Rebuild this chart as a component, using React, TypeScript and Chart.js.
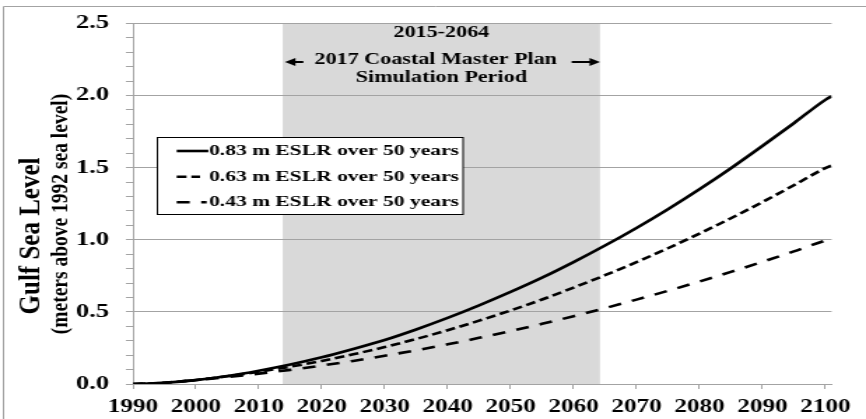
import React, { useEffect, useRef } from 'react';
import { Chart, registerables } from 'chart.js';

Chart.register(...registerables);

// ---- data ----
const years = [1990, 1995, 2000, 2005, 2010, 2015, 2020, 2025, 2030, 2035, 2040, 2045, 2050, 2055, 2060, 2065, 2070, 2075, 2080, 2085, 2090, 2095, 2100, 2101];
const eslr083 = [0, 0.008, 0.027, 0.055, 0.092, 0.135, 0.185, 0.243, 0.305, 0.378, 0.458, 0.545, 0.638, 0.737, 0.845, 0.96, 1.082, 1.212, 1.35, 1.496, 1.65, 1.808, 1.97, 1.995];
const eslr063 = [0, 0.009, 0.028, 0.054, 0.085, 0.12, 0.16, 0.206, 0.256, 0.312, 0.373, 0.439, 0.51, 0.586, 0.668, 0.754, 0.845, 0.941, 1.043, 1.149, 1.261, 1.378, 1.497, 1.515];
const eslr043 = [0, 0.009, 0.027, 0.048, 0.072, 0.098, 0.128, 0.16, 0.196, 0.234, 0.275, 0.32, 0.367, 0.417, 0.47, 0.526, 0.585, 0.646, 0.71, 0.777, 0.847, 0.919, 0.994, 1.005];
const seriesLabels = ['0.83 m ESLR over 50 years', '0.63 m ESLR over 50 years', '0.43 m ESLR over 50 years'];
const xTickValues = [1990, 2000, 2010, 2020, 2030, 2040, 2050, 2060, 2070, 2080, 2090, 2100];
const yMajorLabels = ['0.0', '0.5', '1.0', '1.5', '2.0', '2.5'];
const simPeriod = [2013.8, 2064.2];
const periodText = ['2015-2064', '2017 Coastal Master Plan', 'Simulation Period'];
const yTitle = ['Gulf Sea Level', '(meters above 1992 sea level)'];

// ---- layout / style ----
const PAGE_W = 866;
const PAGE_H = 419;
const CANVAS_W = 619;
const S = PAGE_W / CANVAS_W; // horizontal stretch of the picture
const FAMILY = '"Liberation Serif", "Times New Roman", serif';
const GRID = '#a3a3a3';
const dashes: number[][] = [[], [7, 3.5], [9.3, 8.2]];

const decor = {
  id: 'decor',
  beforeDraw(chart: any) {
    const { ctx, chartArea: a, scales } = chart;
    const x = scales.x;
    ctx.save();
    const x0 = x.getPixelForValue(simPeriod[0]);
    const x1 = x.getPixelForValue(simPeriod[1]);
    ctx.fillStyle = '#d9d9d9';
    ctx.fillRect(x0, a.top, x1 - x0, a.bottom - a.top);
    // outer frame
    ctx.strokeStyle = GRID;
    ctx.lineWidth = 1;
    ctx.beginPath();
    ctx.moveTo(2.5, PAGE_H + 10);
    ctx.lineTo(2.5, 6.5);
    ctx.lineTo(CANVAS_W + 10, 6.5);
    ctx.stroke();
    ctx.restore();
  },
  afterDatasetsDraw(chart: any) {
    const { ctx, scales } = chart;
    const x = scales.x;
    ctx.save();
    ctx.fillStyle = '#000';
    ctx.textBaseline = 'middle';

    // simulation period text
    const cx = (x.getPixelForValue(simPeriod[0]) + x.getPixelForValue(simPeriod[1])) / 2;
    ctx.textAlign = 'center';
    ctx.font = `bold 15.8px ${FAMILY}`;
    const rowsY = [33, 60, 78];
    periodText.forEach((t, i) => ctx.fillText(t, i === 1 ? cx - 4 : cx, rowsY[i]));
    // arrows
    const drawArrow = (from: number, to: number, y: number) => {
      const dir = Math.sign(to - from);
      ctx.strokeStyle = '#000';
      ctx.lineWidth = 2;
      ctx.beginPath();
      ctx.moveTo(from, y);
      ctx.lineTo(to - dir * 5, y);
      ctx.stroke();
      ctx.beginPath();
      ctx.moveTo(to, y);
      ctx.lineTo(to - dir * 7.5, y - 4);
      ctx.lineTo(to - dir * 7.5, y + 4);
      ctx.closePath();
      ctx.fill();
    };
    drawArrow(216.8, 203.7, 62);
    drawArrow(408.6, 428.9, 62);

    // legend
    const bx = 112.5, by = 137.5, bw = 218.5, bh = 77;
    ctx.fillStyle = '#fff';
    ctx.fillRect(bx, by, bw, bh);
    ctx.strokeStyle = '#000';
    ctx.lineWidth = 1;
    ctx.strokeRect(bx, by, bw, bh);
    const legY = [151, 176.8, 202.3];
    const sampleEnd = [148.9, 143, 147.7];
    ctx.font = `bold 15.4px ${FAMILY}`;
    ctx.textAlign = 'left';
    seriesLabels.forEach((lab, i) => {
      ctx.strokeStyle = '#000';
      ctx.lineWidth = 2.6;
      ctx.setLineDash(dashes[i]);
      ctx.beginPath();
      ctx.moveTo(126.3, legY[i]);
      ctx.lineTo(sampleEnd[i], legY[i]);
      ctx.stroke();
      ctx.setLineDash([]);
      ctx.fillStyle = '#000';
      ctx.fillText(lab, 149.4, legY[i]);
    });

    // y-axis title (glyphs less stretched than the rest)
    const titleX = [22.2, 43.6];
    const titleY = [236, 214];
    const titleFont = [`bold 25px ${FAMILY}`, `bold 19.5px ${FAMILY}`];
    ctx.textAlign = 'center';
    yTitle.forEach((t, i) => {
      ctx.save();
      ctx.translate(titleX[i], titleY[i]);
      ctx.scale(1.2 / S, 1);
      ctx.rotate(-Math.PI / 2);
      ctx.font = titleFont[i];
      ctx.fillStyle = '#000';
      ctx.fillText(t, 0, 0);
      ctx.restore();
    });
    ctx.restore();
  },
};

export default function App() {
  const ref = useRef<HTMLCanvasElement | null>(null);

  useEffect(() => {
    if (!ref.current) return;
    const mk = (vals: number[]) => years.map((yr, i) => ({ x: yr, y: vals[i] }));
    const isMajor = (v: number) => Math.abs(v * 2 - Math.round(v * 2)) < 1e-6;
    const chart = new Chart(ref.current, {
      type: 'line',
      data: {
        datasets: [eslr083, eslr063, eslr043].map((vals, i) => ({
          label: seriesLabels[i],
          data: mk(vals),
          borderColor: '#000',
          borderWidth: 2.6,
          borderDash: dashes[i],
          pointRadius: 0,
          fill: false,
          cubicInterpolationMode: 'monotone' as const,
        })),
      },
      options: {
        responsive: false,
        animation: false,
        devicePixelRatio: 1,
        events: [],
        layout: { padding: { left: 0, right: 24.6, top: 22, bottom: 0 } },
        plugins: {
          legend: { display: false },
          tooltip: { enabled: false },
        },
        scales: {
          x: {
            type: 'linear',
            min: 1990,
            max: 2101,
            afterBuildTicks: (scale: any) => {
              scale.ticks = xTickValues.map((v) => ({ value: v }));
            },
            afterFit: (scale: any) => {
              scale.height = 35;
            },
            ticks: {
              autoSkip: false,
              maxRotation: 0,
              padding: 8,
              color: '#000',
              font: { family: FAMILY, size: 18, weight: 'bold' },
              callback: (v: any) => String(v),
            },
            grid: {
              drawOnChartArea: false,
              drawTicks: true,
              tickLength: 5,
              tickColor: GRID,
            },
            border: { display: true, color: GRID, width: 1 },
          },
          y: {
            min: 0,
            max: 2.5,
            afterFit: (scale: any) => {
              scale.width = 95;
            },
            ticks: {
              stepSize: 0.1,
              autoSkip: false,
              padding: 12,
              color: '#000',
              font: { family: FAMILY, size: 19, weight: 'bold' },
              callback: (v: any) => (isMajor(Number(v)) ? yMajorLabels[Math.round(Number(v) * 2)] : ''),
            },
            grid: {
              color: (c: any) => (c.tick && isMajor(c.tick.value) ? GRID : 'rgba(0,0,0,0)'),
              tickColor: GRID,
              tickLength: 5,
              drawTicks: true,
            },
            border: { display: true, color: GRID, width: 1 },
          },
        },
      },
      plugins: [decor],
    });
    return () => chart.destroy();
  }, []);

  return (
    <div style={{ position: 'fixed', left: 0, top: 0, width: PAGE_W, height: PAGE_H, background: '#fff' }}>
      <canvas
        ref={ref}
        width={CANVAS_W}
        height={PAGE_H}
        style={{ width: `${PAGE_W}px`, height: `${PAGE_H}px`, display: 'block' }}
      />
    </div>
  );
}
